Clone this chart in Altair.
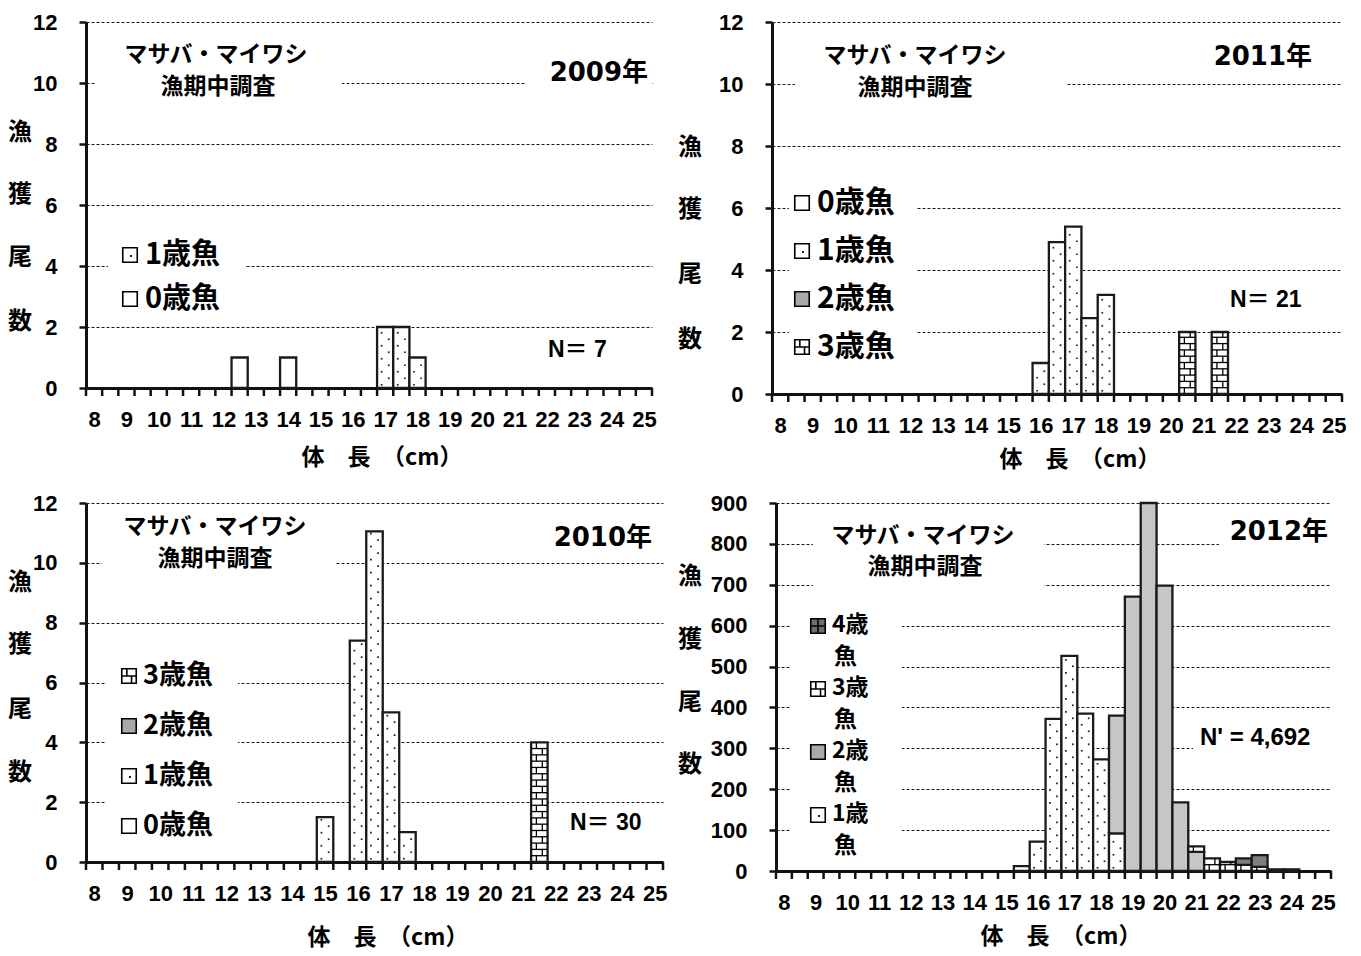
import altair as alt
import pandas as pd

# ---------------- data ----------------
AGES = ["0歳魚", "1歳魚", "2歳魚", "3歳魚", "4歳魚"]
BAR_FILLS = ["#ffffff", "#ffffff", "#c6c6c6", "#ffffff", "#7e7e7e"]
SWATCH_FILLS = ["#ffffff", "#ffffff", "#a9a9a9", "#ffffff", "#6e6e6e"]

x_labels = list(range(8, 26))                     # integer tick labels
bins = [8 + 0.5 * i for i in range(35)]           # half-cm length classes 8.0 .. 25.0

# 2009
len_2009 = [12.5, 14.0, 17.0, 17.5, 18.0]
a0_2009 = [1, 1, 0, 0, 0]
a1_2009 = [0, 0, 2, 2, 1]

# 2011
len_2011 = [16.0, 16.5, 17.0, 17.5, 18.0, 20.5, 21.5]
a1_2011 = [1.0, 4.9, 5.4, 2.45, 3.2, 0, 0]
a3_2011 = [0, 0, 0, 0, 0, 2, 2]

# 2010
len_2010 = [15.0, 16.0, 16.5, 17.0, 17.5, 21.5]
a1_2010 = [1.5, 7.4, 11.05, 5.0, 1.0, 0]
a3_2010 = [0, 0, 0, 0, 0, 4]

# 2012
len_2012 = [15.5, 16.0, 16.5, 17.0, 17.5, 18.0, 18.5, 19.0, 19.5, 20.0,
            20.5, 21.0, 21.5, 22.0, 22.5, 23.0, 23.5, 24.0]
a1_2012 = [12, 72, 372, 526, 385, 273, 92, 0, 0, 0, 0, 0, 0, 0, 0, 0, 0, 0]
a2_2012 = [0, 0, 0, 0, 0, 0, 288, 671, 900, 698, 168, 47, 0, 0, 0, 0, 0, 0]
a3_2012 = [0, 0, 0, 0, 0, 0, 0, 0, 0, 0, 0, 13, 31, 22, 15, 10, 4, 0]
a4_2012 = [0, 0, 0, 0, 0, 0, 0, 0, 0, 0, 0, 0, 0, 0, 16, 29, 0, 4]

# ---------------- styling helpers ----------------
JP = "Noto Sans CJK JP"
NUM = "Liberation Sans"
YEARF = "DejaVu Sans, Noto Sans CJK JP"
NF = "Liberation Sans, Noto Sans CJK JP"

edges = [b - 0.25 for b in bins] + [bins[-1] + 0.25]
EDGES = pd.DataFrame({"e": edges})
ONE = pd.DataFrame({"k": [0]})

SQ = "M-1,-1H1V1H-1Z"
BRICK = "M-1,-1H1V1H-1Z M-1,0H1 M-0.3,-1V0 M0.35,0V1"
CHECK = "M-1,-1H1V1H-1Z M-1,0H1 M0,-1V1"


def txt(text, x, y, size, align="left", font=JP, weight="bold"):
    return alt.Chart(ONE).mark_text(
        text=text, align=align, baseline="middle", font=font,
        fontSize=size, fontWeight=weight, color="black"
    ).encode(x=alt.value(x), y=alt.value(y))


def box(x0, x1, y0, y1):
    return alt.Chart(ONE).mark_rect(fill="white").encode(
        x=alt.value(x0), x2=alt.value(x1), y=alt.value(y0), y2=alt.value(y1))


def swatch(age, x, y):
    i = AGES.index(age)
    shape = {"3歳魚": BRICK, "4歳魚": CHECK}.get(age, SQ)
    layers = [alt.Chart(ONE).mark_point(
        shape=shape, size=210, filled=True, fill=SWATCH_FILLS[i], fillOpacity=1,
        stroke="black", strokeWidth=1.6, opacity=1
    ).encode(x=alt.value(x), y=alt.value(y))]
    if age == "1歳魚":
        layers.append(alt.Chart(ONE).mark_square(size=4, color="#222", opacity=1)
                      .encode(x=alt.value(x + 1), y=alt.value(y + 1)))
    return layers


def make_panel(lens, series, w, h, ymax, ystep, ppu, cfg):
    rows = []
    for order, age in enumerate(AGES):
        vals = series.get(age)
        if vals is None:
            continue
        for L, v in zip(lens, vals):
            if v > 0:
                rows.append({"len": L, "age": age, "order": order, "n": v})
    df = pd.DataFrame(rows)

    xscale = alt.Scale(domain=[7.75, 25.25], nice=False, zero=False)
    yscale = alt.Scale(domain=[0, ymax], nice=False, zero=True)
    xaxis = alt.Axis(
        values=x_labels, format="d", title=None, ticks=False,
        labelOverlap=False, labelFlush=False, labelBound=False,
        labelFont=NUM, labelFontSize=22, labelFontWeight="bold", labelColor="black",
        labelPadding=21, domainWidth=3, domainColor="#111111", grid=False,
    )
    yaxis = alt.Axis(
        values=list(range(0, ymax + 1, ystep)), title=None, format="d",
        labelFont=NUM, labelFontSize=22, labelFontWeight="bold", labelColor="black",
        labelPadding=22, tickSize=7, tickWidth=2.5, tickColor="#111111",
        domainWidth=3, domainColor="#111111",
        grid=True, gridDash=[3, 2], gridColor="#1a1a1a", gridWidth=1.2,
        labelOverlap=False,
    )

    base = alt.Chart(df).transform_stack(
        stack="n", groupby=["len"], as_=["y0", "y1"],
        sort=[alt.SortField(field="order", order="ascending")], offset="zero"
    ).transform_calculate(xl="datum.len - 0.25", xr="datum.len + 0.25")

    bars = base.mark_bar(stroke="#1a1a1a", strokeWidth=2.3, opacity=1).encode(
        x=alt.X("xl:Q", scale=xscale, axis=xaxis),
        x2="xr:Q",
        y=alt.Y("y0:Q", scale=yscale, axis=yaxis),
        y2="y1:Q",
        fill=alt.Fill("age:N", scale=alt.Scale(domain=AGES, range=BAR_FILLS), legend=None),
    )

    ticks = alt.Chart(EDGES).mark_rule(color="#111111", strokeWidth=2.5).encode(
        x=alt.X("e:Q", scale=xscale, axis=xaxis),
        y=alt.value(h), y2=alt.value(h + 8),
    )

    s = 6.5 / ppu
    dots = base.transform_filter("datum.age == '1歳魚'").transform_calculate(
        ys=f"sequence(datum.y0 + {s / 2}, datum.y1 - {s * 0.3}, {s})"
    ).transform_flatten(["ys"]).transform_calculate(
        k=f"round((datum.ys - datum.y0 - {s / 2}) / {s})",
        xd="datum.len + (datum.k % 2 == 0 ? -0.11 : 0.11)",
    ).mark_square(size=3, color="#222", opacity=1).encode(
        x=alt.X("xd:Q", scale=xscale, axis=xaxis),
        y=alt.Y("ys:Q", scale=yscale, axis=yaxis),
    )

    bs = 6.3 / ppu
    brick_h = base.transform_filter("datum.age == '3歳魚'").transform_calculate(
        ys=f"sequence(datum.y0 + {bs}, datum.y1 - {bs * 0.3}, {bs})"
    ).transform_flatten(["ys"]).mark_rule(color="black", strokeWidth=1.3).encode(
        x=alt.X("xl:Q", scale=xscale, axis=xaxis), x2="xr:Q",
        y=alt.Y("ys:Q", scale=yscale, axis=yaxis),
    )
    brick_v = base.transform_filter("datum.age == '3歳魚'").transform_calculate(
        ys=f"sequence(datum.y0, datum.y1 - {bs * 0.3}, {bs})"
    ).transform_flatten(["ys"]).transform_calculate(
        k=f"round((datum.ys - datum.y0) / {bs})",
        xv="datum.len + (datum.k % 2 == 0 ? -0.09 : 0.09)",
        ye=f"min(datum.ys + {bs}, datum.y1)",
    ).mark_rule(color="black", strokeWidth=1.3).encode(
        x=alt.X("xv:Q", scale=xscale, axis=xaxis),
        y=alt.Y("ys:Q", scale=yscale, axis=yaxis), y2="ye:Q",
    )

    layers = [box(*b) for b in cfg["boxes"]]
    layers += [bars, ticks, dots, brick_h, brick_v]

    tx, ty1, ty2 = cfg["title"]
    layers.append(txt("マサバ・マイワシ", tx, ty1 - 1, 23, align="center"))
    layers.append(txt("漁期中調査", tx + cfg.get("t2dx", 0), ty2 + 1, 23, align="center"))
    yx, yy, ytext = cfg["year"]
    layers.append(txt(ytext, yx, yy, 26, align="right", font=YEARF))
    nx, ny, ntext, nsize = cfg["n"]
    layers.append(txt(ntext, nx, ny, nsize, align="left", font=NF))

    sx, tx0, lsize = cfg["legend_x"]
    for age, yy_ in cfg["legend"]:
        layers += swatch(age, sx, yy_)
        if cfg.get("wrap"):
            layers.append(txt(age[:2], tx0, yy_ - 1, lsize))
            layers.append(txt(age[2:], tx0 + 2, yy_ + 31, lsize))
        else:
            layers.append(txt(age, tx0, yy_, lsize))

    cx, cys = cfg["ytitle"]
    for ch, cy in zip("漁獲尾数", cys):
        layers.append(txt(ch, cx, cy, 24, align="center"))

    xtx, xty = cfg["xtitle"]
    layers.append(txt("体　長　（cm）", xtx, h + xty, 23, align="center"))

    return alt.layer(*layers).properties(width=w, height=h)


p2009 = make_panel(
    len_2009, {"0歳魚": a0_2009, "1歳魚": a1_2009}, 566, 366, 12, 2, 30.5,
    {
        "boxes": [(10, 256, 22, 82), (440, 566, 35, 66), (22, 159, 200, 295)],
        "title": (130, 34, 64), "t2dx": 2,
        "year": (562, 51, "2009年"),
        "n": (462, 328, "N＝ 7", 23),
        "legend_x": (44, 59, 29),
        "legend": [("1歳魚", 233), ("0歳魚", 277)],
        "ytitle": (-66, [111, 173, 236, 300]),
        "xtitle": (296, 70),
    },
)

p2011 = make_panel(
    len_2011, {"1歳魚": a1_2011, "3歳魚": a3_2011}, 570, 372, 12, 2, 31.0,
    {
        "boxes": [(23, 295, 20, 82), (17, 144, 160, 345)],
        "title": (143, 35, 65),
        "year": (540, 35, "2011年"),
        "n": (458, 278, "N＝ 21", 23),
        "legend_x": (30, 45, 30),
        "legend": [("0歳魚", 181), ("1歳魚", 229), ("2歳魚", 277), ("3歳魚", 325)],
        "ytitle": (-82, [126, 188, 253, 318]),
        "xtitle": (308, 66),
    },
)

p2010 = make_panel(
    len_2010, {"1歳魚": a1_2010, "3歳魚": a3_2010}, 577, 359, 12, 2, 29.9,
    {
        "boxes": [(16, 249, 8, 75), (20, 152, 150, 345)],
        "title": (129, 25, 55),
        "year": (566, 35, "2010年"),
        "n": (484, 320, "N＝ 30", 23),
        "legend_x": (43, 57, 27),
        "legend": [("3歳魚", 173), ("2歳魚", 223), ("1歳魚", 273), ("0歳魚", 323)],
        "ytitle": (-66, [80, 142, 207, 270]),
        "xtitle": (302, 76),
    },
)

p2012 = make_panel(
    len_2012, {"1歳魚": a1_2012, "2歳魚": a2_2012, "3歳魚": a3_2012, "4歳魚": a4_2012},
    555, 368, 900, 100, 0.409,
    {
        "boxes": [(37, 268, 22, 97), (443, 555, 12, 50), (14, 126, 110, 360), (417, 555, 222, 252)],
        "title": (147, 34, 63), "t2dx": 2,
        "year": (552, 29, "2012年"),
        "n": (424, 235, "N' = 4,692", 24),
        "legend_x": (42, 56, 23), "wrap": True,
        "legend": [("4歳魚", 123), ("3歳魚", 186), ("2歳魚", 249), ("1歳魚", 312)],
        "ytitle": (-86, [74, 137, 200, 262]),
        "xtitle": (285, 66),
    },
)

row1 = alt.hconcat(p2009, p2011, spacing=120, bounds="flush")
row2 = alt.hconcat(p2010, p2012, spacing=113, bounds="flush")
chart = alt.vconcat(row1, row2, spacing=20).configure_view(
    strokeWidth=0
).properties(padding={"left": 0, "top": 3, "right": 0, "bottom": 10})

chart.save("out.html", embed_options={"renderer": "svg", "actions": False})
